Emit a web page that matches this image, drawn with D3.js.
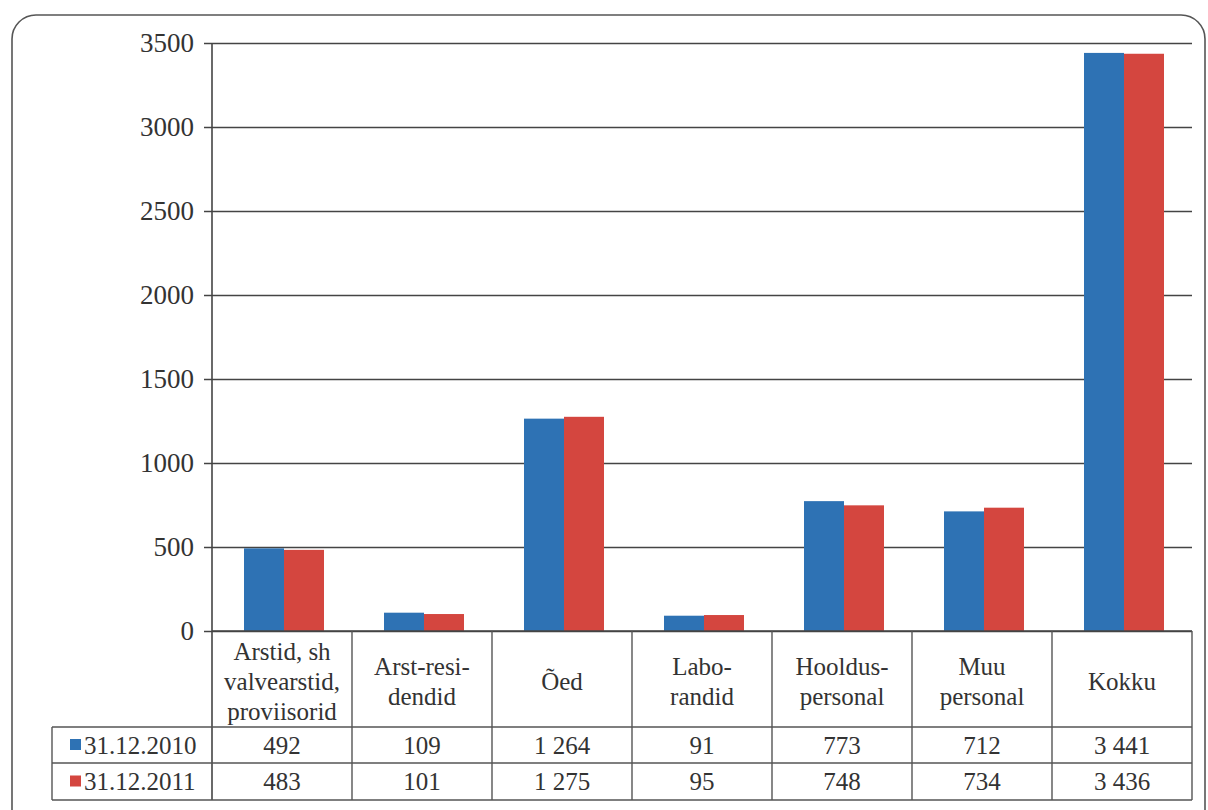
<!DOCTYPE html>
<html><head><meta charset="utf-8">
<script src="https://cdn.jsdelivr.net/npm/d3@7"></script>
</head><body style="margin:0">
<script>
const categories = [["Arstid, sh","valvearstid,","proviisorid"],["Arst-resi-","dendid"],["Õed"],["Labo-","randid"],["Hooldus-","personal"],["Muu","personal"],["Kokku"]];
const seriesNames = ["31.12.2010","31.12.2011"];
const values2010 = [492,109,1264,91,773,712,3441];
const values2011 = [483,101,1275,95,748,734,3436];
const tableLabels2010 = ["492","109","1 264","91","773","712","3 441"];
const tableLabels2011 = ["483","101","1 275","95","748","734","3 436"];
const yTicks = [0,500,1000,1500,2000,2500,3000,3500];
const colors = ["#2e72b4","#d4463f"];

const W=1208,H=810;
const FF="Times New Roman";
const svg=d3.select("body").append("svg").attr("width",W).attr("height",H).style("display","block")
  .attr("font-family",FF).style("font-family",`"${FF}"`);
svg.append("rect").attr("x",12).attr("y",15).attr("width",1193).attr("height",820).attr("rx",24)
  .attr("fill","#fff").attr("stroke","#555").attr("stroke-width",1.6);

const pLeft=212,pRight=1192,pTop=43,pBottom=631;
const x=d3.scaleBand().domain(d3.range(categories.length)).range([pLeft,pRight]);
const y=d3.scaleLinear().domain([0,3500]).range([pBottom,pTop]);
const x1=d3.scaleBand().domain([0,1]).range([0,80]);

const yAxis=d3.axisLeft(y).tickValues(yTicks).tickSize(-(pRight-pLeft)).tickPadding(14).tickFormat(d3.format("d"));
const ga=svg.append("g").attr("transform",`translate(${pLeft},0)`).call(yAxis);
ga.attr("font-family",null).attr("font-size",null);
ga.select(".domain").remove();
ga.selectAll(".tick line").attr("stroke","#444").attr("stroke-width",1.6).attr("x1",-8);
ga.selectAll(".tick text").style("font-family",`"${FF}"`).style("font-size","27px").attr("fill","#333").attr("dx",-4);

[values2010,values2011].forEach((vals,si)=>{
  svg.append("g").selectAll("rect").data(vals).join("rect")
    .attr("x",(d,i)=>x(i)+(x.bandwidth()-80)/2+x1(si)+2)
    .attr("width",x1.bandwidth())
    .attr("y",d=>y(d)).attr("height",d=>y(0)-y(d))
    .attr("fill",colors[si]);
});

svg.append("line").attr("x1",pLeft).attr("x2",pLeft).attr("y1",pTop).attr("y2",800).attr("stroke","#444").attr("stroke-width",1.6);

const rowTop=[pBottom,727,763,800];
const tableLeft=52;
const lc="#555";
svg.append("line").attr("x1",pLeft).attr("x2",pRight).attr("y1",pBottom).attr("y2",pBottom).attr("stroke","#444").attr("stroke-width",1.6);
[727,763,800].forEach(yy=>svg.append("line").attr("x1",tableLeft).attr("x2",pRight).attr("y1",yy).attr("y2",yy).attr("stroke",lc).attr("stroke-width",1.4));
svg.append("line").attr("x1",tableLeft).attr("x2",tableLeft).attr("y1",727).attr("y2",800).attr("stroke",lc).attr("stroke-width",1.4);
d3.range(categories.length).forEach(i=>{
  const xe=x(i)+x.bandwidth();
  svg.append("line").attr("x1",xe).attr("x2",xe).attr("y1",pBottom).attr("y2",800).attr("stroke",lc).attr("stroke-width",1.4);
});
categories.forEach((lines,i)=>{
  const cx=x(i)+x.bandwidth()/2;
  const lh=30, cy=(pBottom+727)/2+2;
  const t=svg.append("text").style("font-family",`"${FF}"`).style("font-size","25px").attr("fill","#333").attr("text-anchor","middle");
  lines.forEach((l,k)=>{
    t.append("tspan").attr("x",cx).attr("y",cy+(k-(lines.length-1)/2)*lh).attr("dy","0.35em").text(l);
  });
});
[tableLabels2010,tableLabels2011].forEach((labels,si)=>{
  const cy=(rowTop[si+1]+rowTop[si+2])/2;
  labels.forEach((l,i)=>{
    svg.append("text").attr("x",x(i)+x.bandwidth()/2).attr("y",cy).attr("dy","0.35em")
      .style("font-family",`"${FF}"`).style("font-size","25px").attr("fill","#333").attr("text-anchor","middle").text(l);
  });
  svg.append("rect").attr("x",70).attr("y",cy-6).attr("width",11).attr("height",11).attr("fill",colors[si]);
  svg.append("text").attr("x",84).attr("y",cy).attr("dy","0.35em").style("font-family",`"${FF}"`).style("font-size","25px").attr("fill","#333").text(seriesNames[si]);
});
</script>
</body></html>
